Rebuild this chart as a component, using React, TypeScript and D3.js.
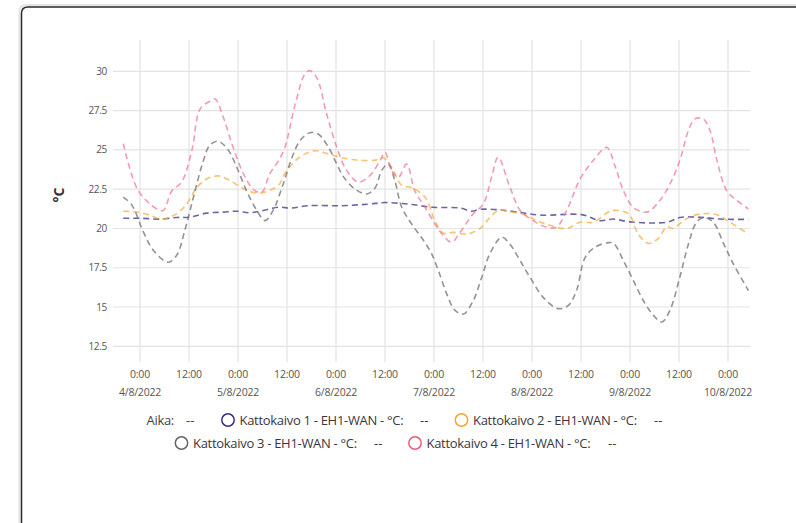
import React from 'react';
import * as d3 from 'd3';

// hours offset from 4/8/2022 0:00
const BASE = new Date(2022, 7, 4, 0, 0).getTime();
const HOUR = 3600 * 1000;

const yTicks = [12.5, 15, 17.5, 20, 22.5, 25, 27.5, 30];
const tickHours = [0, 12, 24, 36, 48, 60, 72, 84, 96, 108, 120, 132, 144];
const dateLabels = ['4/8/2022', '5/8/2022', '6/8/2022', '7/8/2022', '8/8/2022', '9/8/2022', '10/8/2022'];

const kattokaivo1: [number, number][] = [
  [-4.1, 20.65], [0, 20.65], [4.9, 20.6], [9, 20.7], [12.2, 20.72], [16.3, 20.98], [20.4, 21.04],
  [23.7, 21.1], [26.9, 21.0], [30.2, 21.15], [33.9, 21.35], [37.2, 21.3], [41.2, 21.45], [49.4, 21.45],
  [55.9, 21.55], [60, 21.65], [65.7, 21.55], [71.8, 21.35], [78.4, 21.3], [81.2, 21.1], [83.3, 21.22],
  [87.4, 21.2], [92.3, 21.05], [98, 20.85], [108.2, 20.88], [112.7, 20.5], [115.9, 20.6], [120, 20.42],
  [129, 20.4], [132.2, 20.7], [137.1, 20.72], [142, 20.6], [149, 20.58],
];

const kattokaivo2: [number, number][] = [
  [-4.1, 21.1], [-0.8, 21.05], [2.4, 20.85], [5.3, 20.6], [9, 20.95], [11.4, 21.55], [13.9, 22.6],
  [16.3, 23.15], [19.2, 23.35], [22, 23.05], [24.9, 22.6], [27.7, 22.3], [30.2, 22.3], [33.9, 22.75],
  [35.5, 23.5], [38, 24.3], [40.4, 24.75], [42.9, 24.95], [46.1, 24.75], [49.4, 24.5], [53.5, 24.35],
  [57.6, 24.35], [59.6, 24.5], [61.6, 23.9], [64.1, 22.75], [66.5, 22.6], [69.8, 22.0], [72.2, 20.5],
  [74.3, 19.7], [76.7, 19.75], [80, 19.65], [83.3, 20.0], [85.7, 20.7], [87.8, 21.15], [91, 21.05],
  [93.9, 20.9], [97.2, 20.5], [100.4, 20.2], [104.5, 20.0], [107.8, 20.4], [111, 20.4], [114.7, 21.05],
  [116, 21.15], [119.6, 20.95], [122, 19.65], [124.5, 19.05], [126.9, 19.35], [129, 20.1], [130.6, 20.0],
  [133.1, 20.5], [135.9, 20.85], [138.8, 20.95], [141.6, 20.85], [144.5, 20.4], [149, 19.65],
];

const kattokaivo3: [number, number][] = [
  [-4.1, 22.0], [-2, 21.5], [0.8, 19.8], [3.3, 18.6], [6.9, 17.85], [9, 18.3], [11, 19.9], [13.1, 22.0],
  [15.5, 24.3], [17.1, 25.3], [19.2, 25.55], [21.6, 25.0], [23.7, 23.9], [26.1, 22.4], [28.6, 21.15],
  [30.6, 20.5], [32.6, 21.15], [35.1, 22.85], [37.2, 24.5], [39.2, 25.6], [41.6, 26.1], [43.7, 26.0],
  [46.1, 25.2], [48.2, 24.1], [49.8, 23.3], [52.7, 22.5], [55.5, 22.2], [57.6, 22.6], [59.2, 23.7],
  [60.8, 24.1], [62.4, 23.05], [64.1, 21.35], [66.5, 20.3], [69.4, 19.25], [71.4, 18.4], [73.1, 17.3],
  [75.1, 15.85], [77.1, 14.8], [79.2, 14.55], [81.6, 15.4], [83.7, 16.9], [85.7, 18.4], [88.6, 19.45],
  [90.6, 19.0], [93.1, 17.95], [95.5, 16.9], [98.8, 15.6], [102.4, 14.9], [104.9, 15.1], [106.9, 16.05],
  [109, 18.15], [111.4, 18.8], [114.7, 19.1], [116, 19.05], [118.4, 17.95], [120.8, 16.7], [123.3, 15.4],
  [125.8, 14.45], [127.8, 14.05], [129.8, 14.8], [132.2, 16.9], [134.3, 19.0], [136.3, 20.4], [138, 20.7],
  [140.4, 20.4], [142.9, 19.05], [145.3, 17.75], [149, 16.05],
];

const kattokaivo4: [number, number][] = [
  [-4.1, 25.4], [-0.4, 22.4], [4.1, 21.25], [5.7, 21.15], [7.8, 22.4], [10.2, 22.95], [12.7, 24.96],
  [14.7, 27.6], [17.1, 28.1], [18.4, 28.25], [20.4, 27.08], [22.8, 25.17], [25.3, 23.5], [27.7, 22.5],
  [29.8, 22.3], [31.8, 23.5], [33.9, 24.3], [35.5, 25.17], [38, 27.9], [40.4, 29.84], [41.6, 30.05],
  [43.3, 29.6], [45.7, 27.3], [48.2, 25.17], [50.6, 23.7], [53.5, 22.95], [56.3, 23.37], [58.8, 24.33],
  [60, 24.85], [61.6, 23.7], [63.3, 23.26], [65.3, 24.1], [67.3, 22.4], [69.8, 21.35], [72.2, 20.3],
  [73.9, 19.66], [76.3, 19.13], [78.4, 19.76], [81.6, 20.93], [84.1, 21.57], [86.1, 23.26], [87.7, 24.53],
  [90.6, 22.63], [93.1, 21.15], [96.3, 20.5], [99.6, 20.08], [102, 20.08], [104.5, 21.15], [107.8, 23.16],
  [111, 24.33], [114.3, 25.17], [116.3, 24.0], [118.4, 22.4], [120.8, 21.35], [124.1, 21.04], [127.3, 21.78],
  [129.8, 22.84], [132.2, 24.33], [134.3, 26.23], [135.9, 26.98], [137.9, 26.98], [139.6, 26.23],
  [141.3, 24.33], [143.7, 22.4], [146.2, 21.78], [149, 21.25],
];

const seriesNames = [
  'Kattokaivo 1 - EH1-WAN - °C:',
  'Kattokaivo 2 - EH1-WAN - °C:',
  'Kattokaivo 3 - EH1-WAN - °C:',
  'Kattokaivo 4 - EH1-WAN - °C:',
];
const lineColors = ['#3a3488', '#f9ac42', '#6f6f6f', '#f07b90'];
const legendColors = ['#3a2f85', '#f5a633', '#666666', '#ee5d78'];

const W = 796;
const H = 523;
const FONT = '"Open Sans", "Noto Sans", sans-serif';

export default function App() {
  const x = d3
    .scaleTime()
    .domain([new Date(BASE - 6.61 * HOUR), new Date(BASE + 149.39 * HOUR)])
    .range([113, 750]);
  const y = d3.scaleLinear().domain([11.5, 32]).range([362, 40]);
  const t = (h: number) => new Date(BASE + h * HOUR);

  const line = d3
    .line<[number, number]>()
    .x((d) => x(t(d[0])))
    .y((d) => y(d[1]))
    .curve(d3.curveCatmullRom.alpha(0.5));

  const all = [kattokaivo1, kattokaivo2, kattokaivo3, kattokaivo4];
  const order = [0, 1, 2, 3];

  const legendRows = [
    [
      { kind: 'aika', x: 146.5 },
      { kind: 's', i: 0, x: 228 },
      { kind: 's', i: 1, x: 461.5 },
    ],
    [
      { kind: 's', i: 2, x: 181.5 },
      { kind: 's', i: 3, x: 415 },
    ],
  ];
  const rowY = [420, 443];
  const dashX = [420, 654, 374, 608];

  return (
    <svg width={W} height={H} style={{ position: 'absolute', left: 0, top: 0, background: '#fff' }}>
      {/* card */}
      <path d={`M19.5,${H} V12 Q19.5,5 26.5,5 H${W}`} fill="none" stroke="#e4e4e4" strokeWidth={2} />
      <path d={`M21.5,${H} V13.5 Q21.5,7 28,7 H${W}`} fill="none" stroke="#2a2a2a" strokeWidth={1.5} />

      {/* grid */}
      {tickHours.map((h) => (
        <line key={'v' + h} x1={x(t(h))} x2={x(t(h))} y1={40} y2={362} stroke="#e3e3e3" strokeWidth={1.2} />
      ))}
      {yTicks.map((v) => (
        <line key={'h' + v} x1={113} x2={750} y1={y(v)} y2={y(v)} stroke="#e3e3e3" strokeWidth={1.2} />
      ))}

      {/* y tick labels */}
      {yTicks.map((v) => (
        <text key={'yl' + v} x={107} y={y(v)} dy="0.35em" textAnchor="end" fontFamily={FONT} fontSize={10} letterSpacing={-0.3} fill="#555">
          {d3.format('~g')(v)}
        </text>
      ))}

      {/* y axis title */}
      <text
        transform="translate(64,195) rotate(-90)"
        textAnchor="middle"
        fontFamily={FONT}
        fontSize={14}
        fontWeight={700}
        fill="#333"
      >
        °C
      </text>

      {/* x tick labels */}
      {tickHours.map((h, i) => (
        <g key={'xl' + h}>
          <text x={x(t(h))} y={374} dy="0.35em" textAnchor="middle" fontFamily={FONT} fontSize={10.5} letterSpacing={-0.2} fill="#555">
            {d3.timeFormat('%-H:%M')(t(h))}
          </text>
          {h % 24 === 0 && (
            <text x={x(t(h))} y={392} dy="0.35em" textAnchor="middle" fontFamily={FONT} fontSize={10.5} letterSpacing={-0.2} fill="#555">
              {dateLabels[i / 2]}
            </text>
          )}
        </g>
      ))}

      {/* lines */}
      {order.map((i) => (
        <path
          key={'s' + i}
          d={line(all[i]) || ''}
          fill="none"
          stroke={lineColors[i]}
          strokeWidth={1.6}
          strokeDasharray="6,4"
          strokeOpacity={0.75}
        />
      ))}

      {/* legend */}
      {legendRows.map((row, r) =>
        row.map((it: any, k) =>
          it.kind === 'aika' ? (
            <g key={'lg' + r + k}>
              <text x={it.x} y={rowY[r]} dy="0.35em" fontFamily={FONT} fontSize={13} letterSpacing={-0.3} fill="#4a4040">
                Aika:
              </text>
              <text x={186} y={rowY[r]} dy="0.35em" fontFamily={FONT} fontSize={13} fill="#4a4040">
                --
              </text>
            </g>
          ) : (
            <g key={'lg' + r + k}>
              <circle cx={it.x} cy={rowY[r]} r={6.2} fill="none" stroke={legendColors[it.i]} strokeWidth={1.5} />
              <text x={it.x + 11.5} y={rowY[r]} dy="0.35em" fontFamily={FONT} fontSize={13} letterSpacing={-0.3} fill="#3b3640">
                {seriesNames[it.i]}
              </text>
              <text x={dashX[it.i]} y={rowY[r]} dy="0.35em" fontFamily={FONT} fontSize={13} fill="#3b3640">
                --
              </text>
            </g>
          )
        )
      )}
    </svg>
  );
}
